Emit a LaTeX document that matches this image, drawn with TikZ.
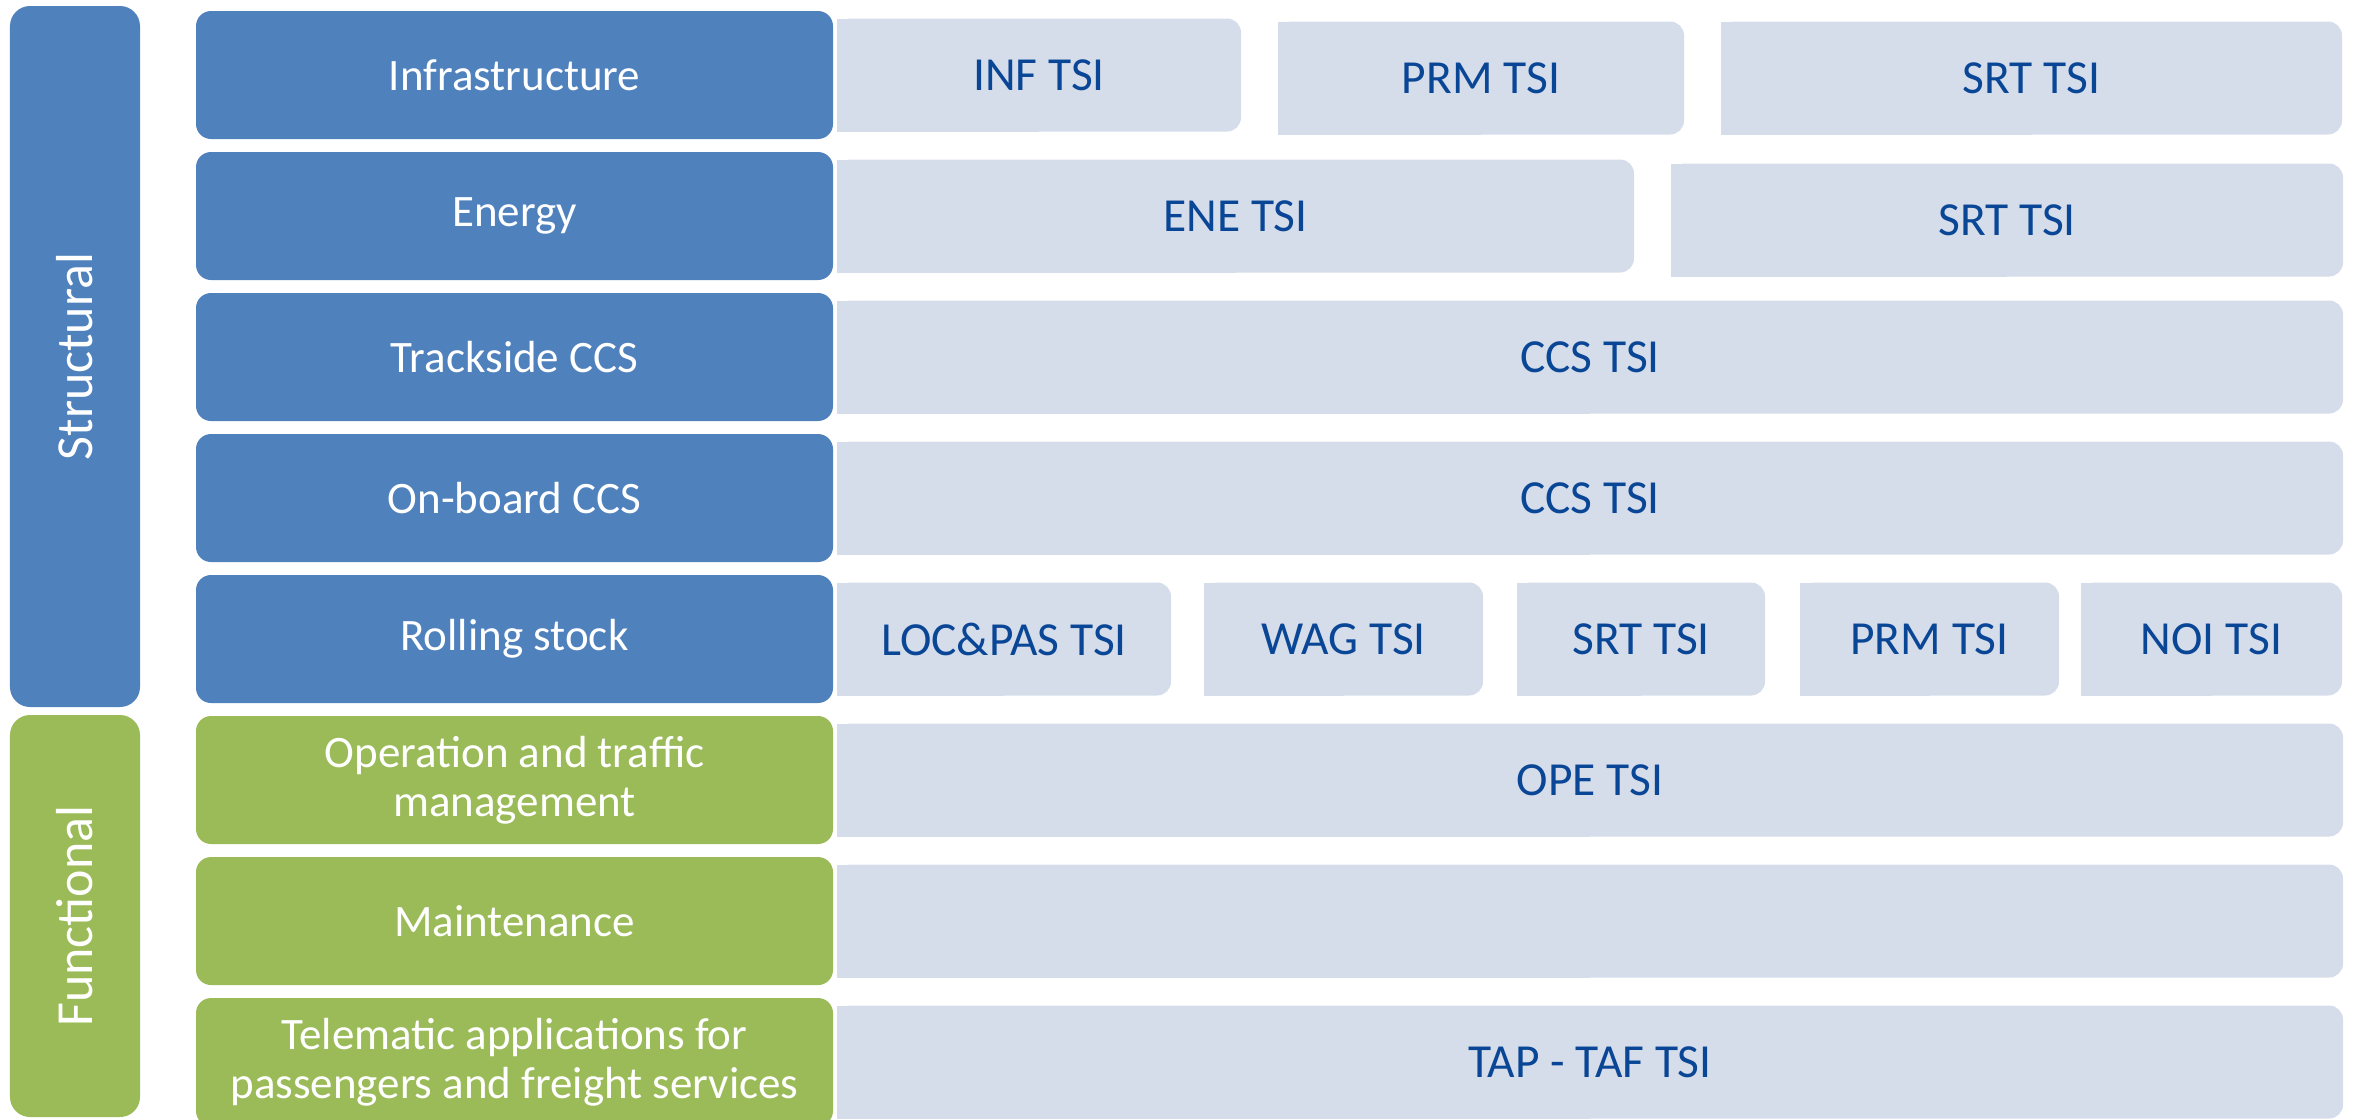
\documentclass[tikz,border=0pt]{standalone}
\usepackage{fontspec}
\setmainfont{Carlito}
\usetikzlibrary{positioning,backgrounds}
\definecolor{StructBlue}{RGB}{79,129,189}
\definecolor{FuncGreen}{RGB}{155,187,89}
\definecolor{TsiFill}{RGB}{213,220,234}
\definecolor{TsiText}{RGB}{10,70,150}

\begin{document}
\begin{tikzpicture}[
  node distance=0.13cm and 0.04cm,
  every node/.style={font=\fontsize{12.8}{14}\selectfont, outer sep=0pt},
  groupbar/.style={rounded corners=0.2cm, text=white, rotate=90, inner sep=0pt, minimum height=1.30cm, font=\fontsize{14.8}{16}\selectfont},
  catbox/.style={fill=StructBlue, rounded corners=0.15cm, text=white, align=center, minimum width=6.37cm, minimum height=1.28cm, inner sep=0pt},
  funcbox/.style={catbox, fill=FuncGreen},
  tsibox/.style={text=TsiText, minimum height=1.13cm, inner sep=0pt, font=\fontsize{13.5}{15}\selectfont},
  tsifill/.style={fill=TsiFill}
]
\useasboundingbox (0,0) rectangle (23.53,-11.19);

% subsystems
\node[catbox] (infra) at (5.145,-0.75) {Infrastructure};
\node[catbox, below=of infra] (energy) {Energy};
\node[catbox, below=of energy] (track) {Trackside CCS};
\node[catbox, below=of track] (onboard) {On-board CCS};
\node[catbox, below=of onboard] (rolling) {Rolling stock};
\node[funcbox, below=of rolling] (ope) {Operation and traffic\\management};
\node[funcbox, below=of ope] (maint) {Maintenance};
\node[funcbox, below=of maint] (telem) {Telematic applications for\\passengers and freight services};

% groups
\node[groupbar, fill=StructBlue, minimum width=7.01cm] (structural) at (0.75,-3.565) {Structural};
\node[groupbar, fill=FuncGreen, minimum width=4.02cm] (functional) at (0.75,-9.16) {Functional};

% TSIs
\node[tsibox, minimum width=4.04cm, right=of infra] (inf) {INF TSI};
\node[tsibox, minimum width=4.06cm, right=0.37cm of inf, yshift=-0.03cm] (prma) {PRM TSI};
\node[tsibox, minimum width=6.21cm, right=0.37cm of prma] (srta) {SRT TSI};
\node[tsibox, minimum width=7.97cm, right=of energy] (ene) {ENE TSI};
\node[tsibox, minimum width=6.72cm, right=0.37cm of ene, yshift=-0.04cm] (srtb) {SRT TSI};
\node[tsibox, minimum width=15.06cm, right=of track] (ccsa) {CCS TSI};
\node[tsibox, minimum width=15.06cm, right=of onboard] (ccsb) {CCS TSI};
\node[tsibox, minimum width=3.34cm, right=of rolling] (locpas) {LOC\&PAS TSI};
\node[tsibox, minimum width=2.79cm, right=0.33cm of locpas] (wag) {WAG TSI};
\node[tsibox, minimum width=2.48cm, right=0.34cm of wag] (srtc) {SRT TSI};
\node[tsibox, minimum width=2.59cm, right=0.35cm of srtc] (prmb) {PRM TSI};
\node[tsibox, minimum width=2.61cm, right=0.22cm of prmb] (noi) {NOI TSI};
\node[tsibox, minimum width=15.06cm, right=of ope] (opetsi) {OPE TSI};
\node[tsibox, minimum width=15.06cm, right=of maint] (mainttsi) {};
\node[tsibox, minimum width=15.06cm, right=of telem] (taptsi) {TAP - TAF TSI};

\begin{scope}[on background layer]
\foreach \n in {inf,prma,srta,ene,srtb,ccsa,ccsb,locpas,wag,srtc,prmb,noi,opetsi,mainttsi,taptsi}{
  \fill[tsifill, rounded corners=0.14cm] (\n.south west) rectangle (\n.north east);
  \fill[tsifill] (\n.south west) rectangle (\n.north);
}
\end{scope}
\end{tikzpicture}
\end{document}
